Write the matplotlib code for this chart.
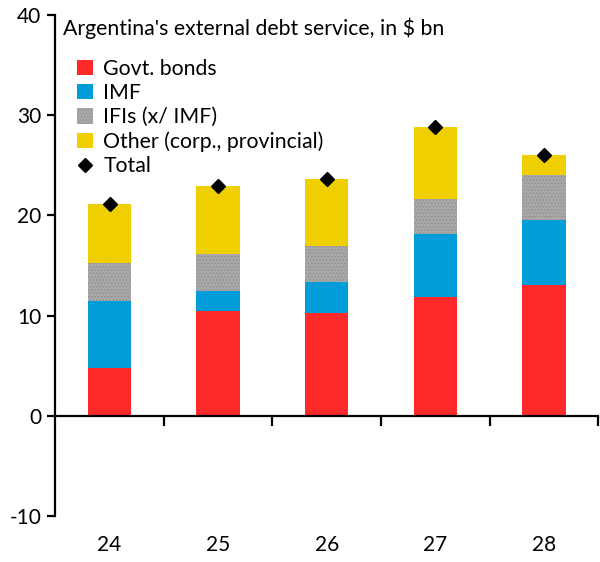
"""Argentina's external debt service, stacked bars with totals."""

import matplotlib
matplotlib.use("Agg")
import matplotlib.pyplot as plt
from matplotlib.lines import Line2D
from matplotlib.patches import Patch
import numpy as np

plt.rcParams["font.family"] = ["Lato", "DejaVu Sans"]
plt.rcParams["hatch.linewidth"] = 0.6

years = ["24", "25", "26", "27", "28"]
govt_bonds = [4.8, 10.5, 10.3, 11.9, 13.1]
imf = [6.7, 2.0, 3.1, 6.2, 6.4]
ifis = [3.8, 3.7, 3.6, 3.5, 4.5]
other = [5.8, 6.7, 6.6, 7.2, 2.0]
total = [21.1, 22.9, 23.6, 28.8, 26.0]

series = [
    ("Govt. bonds", govt_bonds, "#fe2a2a", None),
    ("IMF", imf, "#009dd9", None),
    ("IFIs (x/ IMF)", ifis, "#a8a8a8", "....."),
    ("Other (corp., provincial)", other, "#efcf00", None),
]

fig = plt.figure(figsize=(6.0, 5.62), dpi=100)
ax = fig.add_axes([0.092, 0.082, 0.905, 0.891])

x = np.arange(len(years))
bottom = np.zeros(len(years))
handles = []
for label, values, color, hatch in series:
    ax.bar(x, values, width=0.4, bottom=bottom, color=color,
           hatch=hatch, edgecolor="#8e8e8e" if hatch else color, linewidth=0)
    bottom += np.array(values)
    handles.append(Patch(facecolor=color, hatch=hatch,
                         edgecolor="#8e8e8e" if hatch else color,
                         linewidth=0, label=label))

ax.plot(x, total, linestyle="none", marker="D", markersize=7,
        color="black", zorder=5)
handles.append(Line2D([], [], linestyle="none", marker="D", markersize=7,
                      color="black", label="Total"))

ax.set_xlim(-0.5, 4.5)
ax.set_ylim(-10, 40)
ax.set_yticks([-10, 0, 10, 20, 30, 40])
ax.set_yticklabels(["-10", "0", "10", "20", "30", "40"])

ax.spines["top"].set_visible(False)
ax.spines["right"].set_visible(False)
ax.spines["bottom"].set_position(("data", 0))
for side in ("left", "bottom"):
    ax.spines[side].set_linewidth(1.6)

ax.set_xticks(np.arange(0.5, len(years), 1.0))
ax.set_xticklabels([])
ax.tick_params(axis="x", direction="out", length=7, width=1.6)
ax.tick_params(axis="y", direction="out", length=6, width=1.6,
               labelsize=15, pad=4)

for xi, lab in zip(x, years):
    ax.text(xi, -0.058, lab, transform=ax.get_xaxis_transform(),
            ha="center", va="center", fontsize=15)

ax.text(0.015, 0.973, "Argentina's external debt service, in $ bn",
        transform=ax.transAxes, ha="left", va="center", fontsize=15.3)

ax.legend(handles=handles, loc="upper left", bbox_to_anchor=(0.04, 0.913),
          frameon=False, fontsize=15.3, handlelength=0.75, handleheight=0.75,
          handletextpad=0.5, labelspacing=0.2, borderaxespad=0,
          borderpad=0)

fig.savefig("out.png", dpi=100)
